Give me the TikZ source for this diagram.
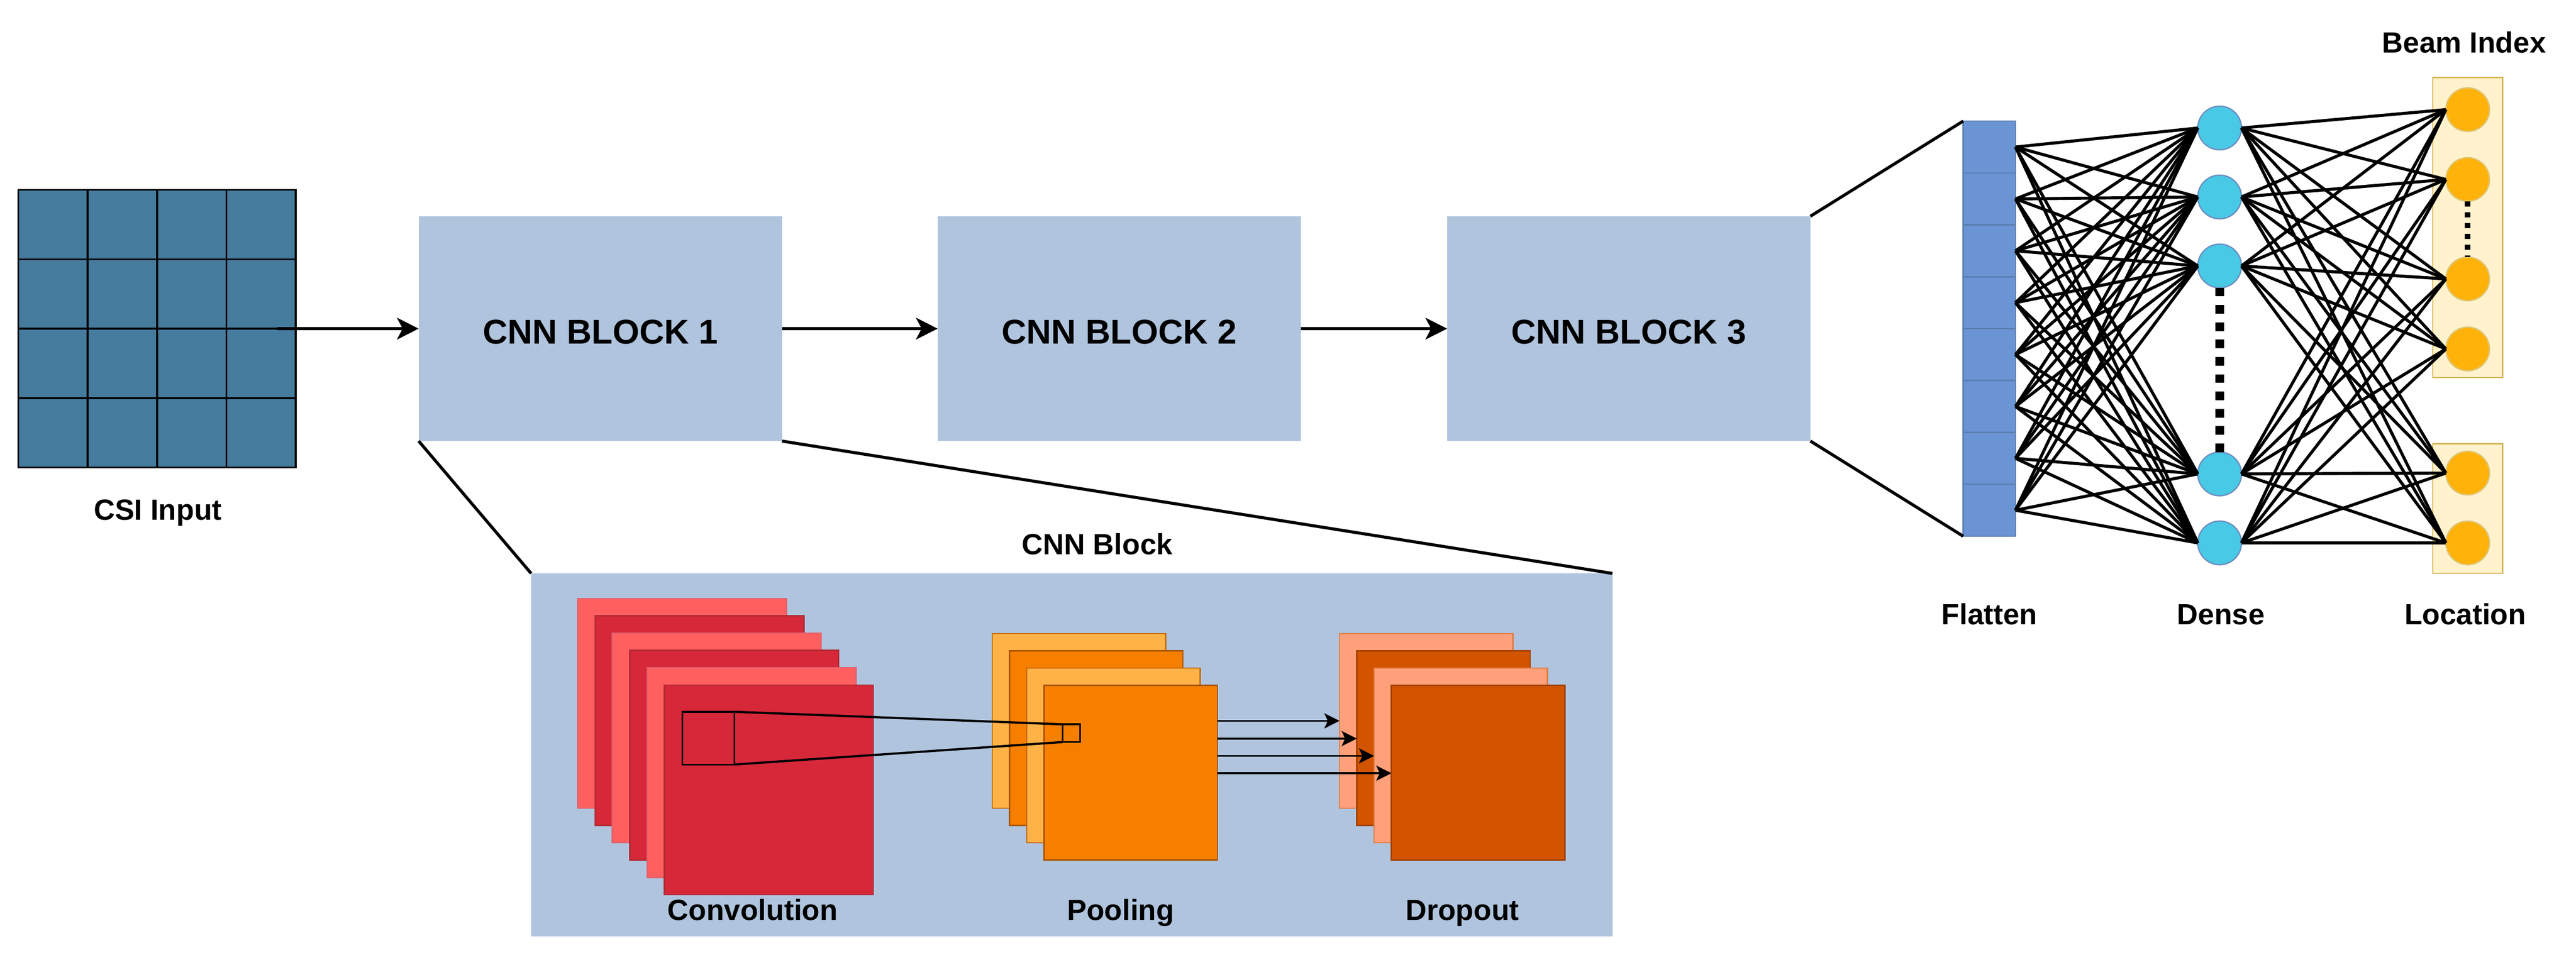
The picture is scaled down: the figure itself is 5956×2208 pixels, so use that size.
\documentclass[tikz,border=0pt]{standalone}
\usepackage{fontspec}
\setmainfont{Liberation Sans}
\usetikzlibrary{positioning,arrows.meta}
\definecolor{csiblue}{HTML}{457B9D}
\definecolor{blockblue}{HTML}{B0C4DE}
\definecolor{flatblue}{HTML}{6A94D4}
\definecolor{flatline}{HTML}{5A7DAE}
\definecolor{denseblue}{HTML}{48C9E6}
\definecolor{denseline}{HTML}{6C8EBF}
\definecolor{outgold}{HTML}{FFB30A}
\definecolor{outline}{HTML}{D6B656}
\definecolor{outbox}{HTML}{FFF2CC}
\definecolor{convlight}{HTML}{FF5F5F}
\definecolor{convlightl}{HTML}{E0606E}
\definecolor{convdark}{HTML}{D62839}
\definecolor{convdarkl}{HTML}{AE2A32}
\definecolor{poollight}{HTML}{FFB347}
\definecolor{poollightl}{HTML}{C46A0C}
\definecolor{pooldark}{HTML}{F77F00}
\definecolor{pooldarkl}{HTML}{A85300}
\definecolor{droplight}{HTML}{FFA07A}
\definecolor{droplightl}{HTML}{E07C40}
\definecolor{dropdark}{HTML}{D35400}
\definecolor{dropdarkl}{HTML}{A04000}

\begin{document}
\begin{tikzpicture}[x=0.1pt,y=-0.1pt]
\tikzstyle{cell}=[rectangle, draw=black, line width=0.42pt, fill=csiblue, minimum size=16.05pt, inner sep=0, outer sep=0]
\tikzstyle{block}=[rectangle, fill=blockblue, minimum width=84pt, minimum height=52pt, text height=7pt, text depth=0pt, inner sep=0, outer sep=0, font=\fontsize{7.95pt}{9pt}\selectfont\bfseries]
\tikzstyle{layer}=[rectangle, anchor=north west, line width=0.3pt, inner sep=0, outer sep=0]
\tikzstyle{conv}=[layer, minimum width=48.3pt, minimum height=48.5pt]
\tikzstyle{pool}=[layer, minimum width=40.1pt, minimum height=40.4pt]
\tikzstyle{flat}=[rectangle, draw=flatline, line width=0.3pt, fill=flatblue, minimum width=12.1pt, minimum height=12pt, inner sep=0, outer sep=0]
\tikzstyle{dense}=[circle, draw=denseline, line width=0.3pt, fill=denseblue, minimum size=10.1pt, inner sep=0, outer sep=0]
\tikzstyle{beam}=[circle, draw=outline!80, line width=0.3pt, fill=outgold, minimum size=10.1pt, inner sep=0, outer sep=0]
\tikzstyle{outgroup}=[rectangle, anchor=north west, draw=outline, line width=0.3pt, fill=outbox, minimum width=16.1pt, inner sep=0, outer sep=0]
\tikzstyle{kernel}=[rectangle, draw=black, line width=0.4pt, inner sep=0, outer sep=0]
\tikzstyle{label}=[anchor=base, inner sep=0, font=\fontsize{6.75pt}{8pt}\selectfont\bfseries]
\tikzstyle{connect}=[-{Stealth[length=5pt,width=5pt,inset=1.3pt]}, line width=0.72pt]
\tikzstyle{small}=[-{Stealth[length=3.5pt,width=3.5pt,inset=0.8pt]}, line width=0.4pt]
\tikzstyle{link}=[line width=0.7pt]
\useasboundingbox (0,0) rectangle (5956,2208);

  % CSI input grid
  \foreach \r in {1,...,4}
    \foreach \c in {1,...,4}
      \node[cell] (C\r\c) at ({42+160.5*\c-80.25},{439+160.5*\r-80.25}) {};
  \node[label] (CSI) at (365,1202) {CSI Input};

  % CNN blocks
  \node[block] (B1) at (1388,760) {CNN BLOCK 1};
  \node[block] (B2) [right=36pt of B1] {CNN BLOCK 2};
  \node[block] (B3) [right=33.8pt of B2] {CNN BLOCK 3};
  \coordinate (Cin) at (641,760);
  \path (Cin) edge [connect] (B1.west);
  \path (B1) edge [connect] (B2);
  \path (B2) edge [connect] (B3);

  % CNN block detail
  \node[rectangle, fill=blockblue, anchor=north west, minimum width=250pt, minimum height=84pt, inner sep=0, outer sep=0] (CNN) at (1228,1326) {};
  \node[label] (CNNl) at (2537,1282) {CNN Block};
  \draw[link] (B1.south west) -- (CNN.north west);
  \draw[link] (B1.south east) -- (CNN.north east);

  \foreach \i/\f/\d in {0/convlight/convlightl,1/convdark/convdarkl,2/convlight/convlightl,3/convdark/convdarkl,4/convlight/convlightl,5/convdark/convdarkl}
    \node[conv, fill=\f, draw=\d] (V\i) at ({1336+40*\i},{1384+40*\i}) {};
  \foreach \i/\f/\d in {0/poollight/poollightl,1/pooldark/pooldarkl,2/poollight/poollightl,3/pooldark/pooldarkl}
    \node[pool, fill=\f, draw=\d] (P\i) at ({2294+40*\i},{1465+40*\i}) {};
  \foreach \i/\f/\d in {0/droplight/droplightl,1/dropdark/dropdarkl,2/droplight/droplightl,3/dropdark/dropdarkl}
    \node[pool, fill=\f, draw=\d] (D\i) at ({3097+40*\i},{1465+40*\i}) {};
  \node[label] (Vl) at (1740,2128) {Convolution};
  \node[label] (Pl) at (2591,2128) {Pooling};
  \node[label] (Dl) at (3381,2128) {Dropout};

  \node[kernel, minimum width=12pt, minimum height=12.2pt] (K1) at (1638,1707) {};
  \node[kernel, minimum width=4pt, minimum height=4.1pt] (K2) at (2477,1695.5) {};
  \draw[line width=0.5pt] (K1.north east) -- (K2.north west);
  \draw[line width=0.5pt] (K1.south east) -- (K2.south west);

  \foreach \i/\y in {0/1667,1/1708,2/1748,3/1788} {
    \coordinate (A\i) at (2815,\y);
    \draw[small] (A\i) -- (D\i.west |- A\i);
  }

  % flatten, dense and output layers
  \node[flat] (F1) at (4599.5,340) {};
  \foreach \i [count=\p] in {2,...,8}
    \node[flat] (F\i) [below=0pt of F\p] {};
  \node[label] (Fl) at (4600,1444) {Flatten};
  \draw[link] (B3.north east) -- (F1.north west);
  \draw[link] (B3.south east) -- (F8.south west);

  \foreach \i/\y in {1/296,2/455.5,3/615,4/1096,5/1255.5}
    \node[dense] (N\i) at (5132,\y) {};
  \node[label] (Nl) at (5135,1444) {Dense};

  \node[outgroup, minimum height=69.4pt] (G1) at (5625,179) {};
  \node[outgroup, minimum height=30pt] (G2) at (5625,1026) {};
  \foreach \i/\y in {1/253.5,2/415,3/645,4/807,5/1094,6/1255.5}
    \node[beam] (Y\i) at (5705.5,\y) {};
  \node[label] (Yt) at (5697,121.5) {Beam Index};
  \node[label] (Yl) at (5700,1444) {Location};

  \foreach \i in {1,...,8}
    \foreach \j in {1,...,5}
      \path (F\i.east) edge [link] (N\j.west);
  \foreach \j in {1,...,5}
    \foreach \k in {1,...,6}
      \path (N\j.east) edge [link] (Y\k.west);
  \draw[line width=2pt, dash pattern=on 2pt off 2pt] (N3.south) -- (N4.north);
  \draw[line width=1.3pt, dash pattern=on 1.25pt off 1.25pt] (Y2.south) -- (Y3.north);

\end{tikzpicture}
\end{document}
